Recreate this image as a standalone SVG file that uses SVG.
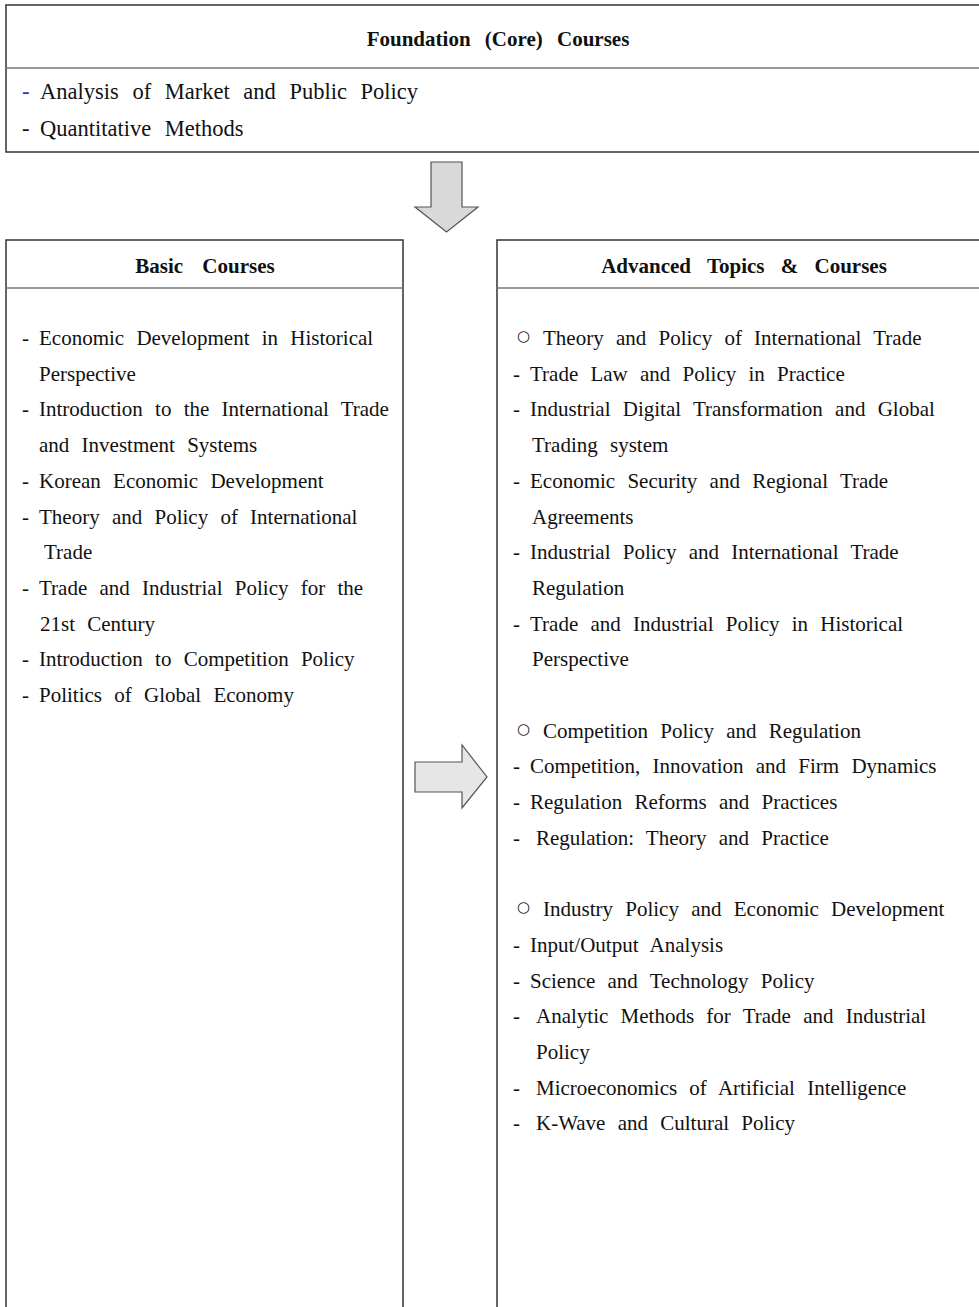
<svg xmlns="http://www.w3.org/2000/svg" width="979" height="1307" viewBox="0 0 979 1307">
<style>
.box{fill:#fff;stroke:#333;stroke-width:1.5}
.div{stroke:#777;stroke-width:1.5}
.hd{font-family:"Liberation Serif","Times New Roman",serif;font-weight:bold;font-size:21px;fill:#111;text-anchor:middle;word-spacing:6px}
.t{font-family:"Liberation Serif","Times New Roman",serif;font-size:21px;fill:#111;word-spacing:7px}
.tt{font-family:"Liberation Serif","Times New Roman",serif;font-size:22.5px;fill:#111;word-spacing:8px}
.c{font-family:"DejaVu Sans",sans-serif;font-size:15px;fill:#111}
.arr{stroke:#555;stroke-width:1.2}
</style>
<rect width="979" height="1307" fill="#fff"/>
<g id="foundation">
<rect class="box" x="6" y="5" width="985" height="147"/>
<line class="div" x1="6" y1="68" x2="979" y2="68"/>
<text class="hd" x="498" y="46" style="word-spacing:9px">Foundation (Core) Courses</text>
<text class="tt" y="99"><tspan x="22" fill="#2233cc">-</tspan><tspan x="40">Analysis of Market and Public Policy</tspan></text>
<text class="tt" y="136"><tspan x="22">-</tspan><tspan x="40">Quantitative Methods</tspan></text>
</g>
<g id="basic">
<rect class="box" x="6" y="240" width="397" height="1080"/>
<line class="div" x1="6" y1="288" x2="403" y2="288"/>
<text class="hd" x="205" y="273" style="word-spacing:14px">Basic Courses</text>
<text class="t" y="345"><tspan x="22">-</tspan><tspan x="39">Economic Development in Historical</tspan></text>
<text class="t" x="39" y="380.7">Perspective</text>
<text class="t" y="416.4"><tspan x="22">-</tspan><tspan x="39">Introduction to the International Trade</tspan></text>
<text class="t" x="39" y="452.1">and Investment Systems</text>
<text class="t" y="487.8"><tspan x="22">-</tspan><tspan x="39">Korean Economic Development</tspan></text>
<text class="t" y="523.5"><tspan x="22">-</tspan><tspan x="39">Theory and Policy of International</tspan></text>
<text class="t" x="44" y="559.2">Trade</text>
<text class="t" y="594.9"><tspan x="22">-</tspan><tspan x="39">Trade and Industrial Policy for the</tspan></text>
<text class="t" x="40" y="630.6">21st Century</text>
<text class="t" y="666.3"><tspan x="22">-</tspan><tspan x="39">Introduction to Competition Policy</tspan></text>
<text class="t" y="702"><tspan x="22">-</tspan><tspan x="39">Politics of Global Economy</tspan></text>
</g>
<g id="advanced">
<rect class="box" x="497" y="240" width="495" height="1080"/>
<line class="div" x1="497" y1="288" x2="979" y2="288"/>
<text class="hd" x="744" y="273" style="word-spacing:11px">Advanced Topics &amp; Courses</text>
<text class="c" x="517" y="341">○</text>
<text class="t" x="543" y="345">Theory and Policy of International Trade</text>
<text class="t" y="380.7"><tspan x="513">-</tspan><tspan x="530">Trade Law and Policy in Practice</tspan></text>
<text class="t" y="416.4"><tspan x="513">-</tspan><tspan x="530">Industrial Digital Transformation and Global</tspan></text>
<text class="t" x="532" y="452.1">Trading system</text>
<text class="t" y="487.8"><tspan x="513">-</tspan><tspan x="530">Economic Security and Regional Trade</tspan></text>
<text class="t" x="532" y="523.5">Agreements</text>
<text class="t" y="559.2"><tspan x="513">-</tspan><tspan x="530">Industrial Policy and International Trade</tspan></text>
<text class="t" x="532" y="594.9">Regulation</text>
<text class="t" y="630.6"><tspan x="513">-</tspan><tspan x="530">Trade and Industrial Policy in Historical</tspan></text>
<text class="t" x="532" y="666.3">Perspective</text>
<text class="c" x="517" y="733.7">○</text>
<text class="t" x="543" y="737.7">Competition Policy and Regulation</text>
<text class="t" y="773.4"><tspan x="513">-</tspan><tspan x="530">Competition, Innovation and Firm Dynamics</tspan></text>
<text class="t" y="809.1"><tspan x="513">-</tspan><tspan x="530">Regulation Reforms and Practices</tspan></text>
<text class="t" y="844.8"><tspan x="513">-</tspan><tspan x="536">Regulation: Theory and Practice</tspan></text>
<text class="c" x="517" y="912.2">○</text>
<text class="t" x="543" y="916.2">Industry Policy and Economic Development</text>
<text class="t" y="951.9"><tspan x="513">-</tspan><tspan x="530">Input/Output Analysis</tspan></text>
<text class="t" y="987.6"><tspan x="513">-</tspan><tspan x="530">Science and Technology Policy</tspan></text>
<text class="t" y="1023.3"><tspan x="513">-</tspan><tspan x="536">Analytic Methods for Trade and Industrial</tspan></text>
<text class="t" x="536" y="1059">Policy</text>
<text class="t" y="1094.7"><tspan x="513">-</tspan><tspan x="536">Microeconomics of Artificial Intelligence</tspan></text>
<text class="t" y="1130.4"><tspan x="513">-</tspan><tspan x="536">K-Wave and Cultural Policy</tspan></text>
</g>
<g id="connectors">
<polygon class="arr" fill="#d9d9d9" points="431,162 462,162 462,207 478,207 446.5,232 415,207 431,207"/>
<polygon class="arr" fill="#e6e6e6" points="415,762 462,762 462,745 487,777 462,808 462,792 415,792"/>
</g>
</svg>
